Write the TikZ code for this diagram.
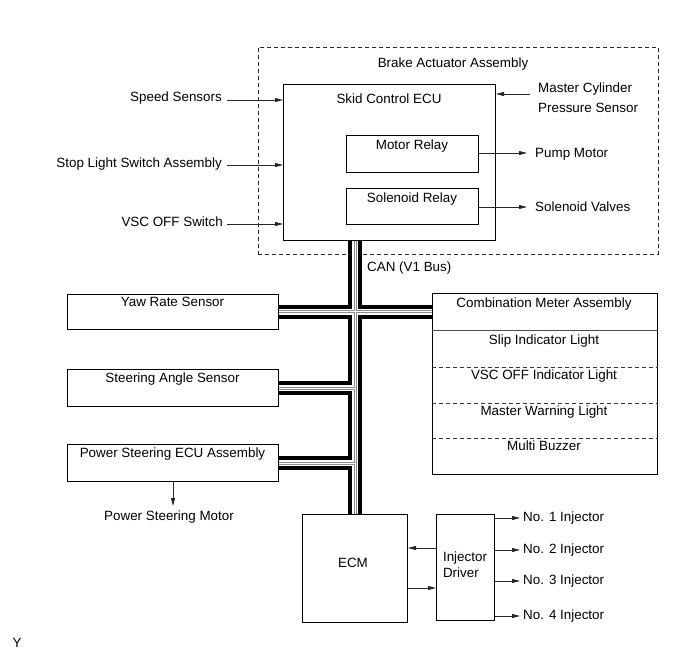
\documentclass[tikz,border=0pt]{standalone}
\usepackage{fontspec}
\setmainfont{Liberation Sans}
\usetikzlibrary{arrows.meta}
\begin{document}
\begin{tikzpicture}[x=1pt,y=-1pt,
  font=\fontsize{13.4}{16}\selectfont,
  box/.style={draw=black, line width=1pt, anchor=north west, inner sep=0pt},
  dashbox/.style={draw=black!85, line width=0.9pt, dash pattern=on 4pt off 3pt, anchor=north west, inner sep=0pt},
  lbl/.style={inner sep=0pt, text=black, text height=9.6pt, text depth=0pt},
  arr/.style={draw=black!85, line width=0.8pt, -{Triangle[length=8pt,width=4pt]}},
  busA/.style={line width=14pt, black},
  busB/.style={line width=6pt, white},
  busC/.style={line width=3pt, black!45},
  busD/.style={line width=1pt, white},
  solidsep/.style={draw=black!70, line width=1pt},
  dashsep/.style={draw=black!80, line width=0.8pt, dash pattern=on 4pt off 3pt}
]
\useasboundingbox (0,0) rectangle (691,660);

% boxes
\node[dashbox, minimum width=400pt, minimum height=207pt] (brake) at (258,47) {};
\node[box, minimum width=212pt, minimum height=156pt] (skid) at (283,84) {};
\node[box, minimum width=132pt, minimum height=37pt] (mr) at (346,135) {};
\node[box, minimum width=132pt, minimum height=36pt] (sr) at (346,188) {};
\node[box, minimum width=211pt, minimum height=35pt] (yaw) at (67,294) {};
\node[box, minimum width=211pt, minimum height=37pt] (steer) at (67,369) {};
\node[box, minimum width=211pt, minimum height=37pt] (ps) at (67,444) {};
\node[box, minimum width=225pt, minimum height=181pt] (comb) at (432,293) {};
\node[box, minimum width=105pt, minimum height=108pt] (ecm) at (302,514) {};
\node[box, minimum width=58pt, minimum height=106pt] (inj) at (436,514) {};

% combination meter dividers
\draw[solidsep] ([yshift=-38pt]comb.north west) -- ([yshift=-38pt]comb.north east);
\draw[dashsep] ([yshift=-74pt]comb.north west) -- ([yshift=-74pt]comb.north east);
\draw[dashsep] ([yshift=-110pt]comb.north west) -- ([yshift=-110pt]comb.north east);
\draw[dashsep] ([yshift=-145pt]comb.north west) -- ([yshift=-145pt]comb.north east);

% texts
\node[lbl] (braket) at (453,63) {Brake Actuator Assembly};
\node[lbl] (skidt) at (389,99) {Skid Control ECU};
\node[lbl] (mrt) at (412,145) {Motor Relay};
\node[lbl] (srt) at (412,198) {Solenoid Relay};
\node[lbl, anchor=west] (pm) at (535,153) {Pump Motor};
\node[lbl, anchor=west] (sv) at (535,207) {Solenoid Valves};
\node[lbl, anchor=west, align=left, text height=29.6pt, font=\fontsize{13.4}{20}\selectfont] (mcp) at (538,98) {Master Cylinder\\Pressure Sensor};
\node[lbl, anchor=east] (sst) at (222,97) {Speed Sensors};
\node[lbl, anchor=east] (slt) at (222,163) {Stop Light Switch Assembly};
\node[lbl, anchor=east] (vst) at (223,222) {VSC OFF Switch};
\node[lbl, anchor=west] (can) at (367,267) {CAN (V1 Bus)};
\node[lbl] (yawt) at (172.5,302) {Yaw Rate Sensor};
\node[lbl] (steert) at (172.5,378) {Steering Angle Sensor};
\node[lbl] (pst) at (172.5,453) {Power Steering ECU Assembly};
\node[lbl] (psm) at (169,516) {Power Steering Motor};
\node[lbl] (combt) at (544,303) {Combination Meter Assembly};
\node[lbl] (c1) at (544,340) {Slip Indicator Light};
\node[lbl] (c2) at (544,375) {VSC OFF Indicator Light};
\node[lbl] (c3) at (544,411) {Master Warning Light};
\node[lbl] (c4) at (544,446) {Multi Buzzer};
\node[lbl] (ecmt) at (353,563) {ECM};
\node[lbl, align=left, text height=25.6pt] (injt) at (465,565) {Injector\\Driver};
\node[lbl, anchor=west] (n1) at (523,517) {No. 1 Injector};
\node[lbl, anchor=west] (n2) at (523,549) {No. 2 Injector};
\node[lbl, anchor=west] (n3) at (523,580) {No. 3 Injector};
\node[lbl, anchor=west] (n4) at (523,615) {No. 4 Injector};
\node[lbl] (ymark) at (17,643) {Y};

% bus
\draw[busA] (skid.south -| ecm.north) -- (ecm.north);
\draw[busA] (yaw.east) -- (yaw.east -| comb.west);
\draw[busA] (steer.east) -- (steer.east -| ecm.north);
\draw[busA] (ps.east) -- (ps.east -| ecm.north);
\draw[busB] (skid.south -| ecm.north) -- (ecm.north);
\draw[busB] (yaw.east) -- (yaw.east -| comb.west);
\draw[busB] (steer.east) -- (steer.east -| ecm.north);
\draw[busB] (ps.east) -- (ps.east -| ecm.north);
\draw[busC] (skid.south -| ecm.north) -- (ecm.north);
\draw[busC] (yaw.east) -- (yaw.east -| comb.west);
\draw[busC] (steer.east) -- (steer.east -| ecm.north);
\draw[busC] (ps.east) -- (ps.east -| ecm.north);
\draw[busD] (skid.south -| ecm.north) -- (ecm.north);
\draw[busD] (yaw.east) -- (yaw.east -| comb.west);
\draw[busD] (steer.east) -- (steer.east -| ecm.north);
\draw[busD] (ps.east) -- (ps.east -| ecm.north);

% input arrows
\coordinate (sa) at ([xshift=5pt,yshift=-3pt]sst.east);
\draw[arr] (sa) -- (sa -| skid.west);
\coordinate (la) at ([xshift=5pt,yshift=-2pt]slt.east);
\draw[arr] (la) -- (la -| skid.west);
\coordinate (va) at ([xshift=4pt,yshift=-2pt]vst.east);
\draw[arr] (va) -- (va -| skid.west);
\coordinate (ma) at ([xshift=-8pt,yshift=4pt]mcp.west);
\draw[arr] (ma) -- (ma -| skid.east);

% outputs
\coordinate (pa) at ([xshift=-8pt]pm.west);
\draw[arr] (pa -| mr.east) -- (pa);
\coordinate (va2) at ([xshift=-8pt]sv.west);
\draw[arr] (va2 -| sr.east) -- (va2);
\coordinate (pma) at ([yshift=5pt]psm.north);
\draw[arr] (ps.south) -- (ps.south |- pma);

% ECM <-> injector driver
\coordinate (ia) at ([yshift=-34pt]inj.north west);
\draw[arr] (ia) -- (ia -| ecm.east);
\coordinate (ib) at ([yshift=-74pt]inj.north west);
\draw[arr] (ib -| ecm.east) -- (ib);

% injector outputs
\coordinate (j1) at ([xshift=-3pt,yshift=-1pt]n1.west);
\draw[arr] (j1 -| inj.east) -- (j1);
\coordinate (j2) at ([xshift=-3pt,yshift=-1pt]n2.west);
\draw[arr] (j2 -| inj.east) -- (j2);
\coordinate (j3) at ([xshift=-3pt,yshift=-1pt]n3.west);
\draw[arr] (j3 -| inj.east) -- (j3);
\coordinate (j4) at ([xshift=-3pt,yshift=-1pt]n4.west);
\draw[arr] (j4 -| inj.east) -- (j4);
\end{tikzpicture}
\end{document}
